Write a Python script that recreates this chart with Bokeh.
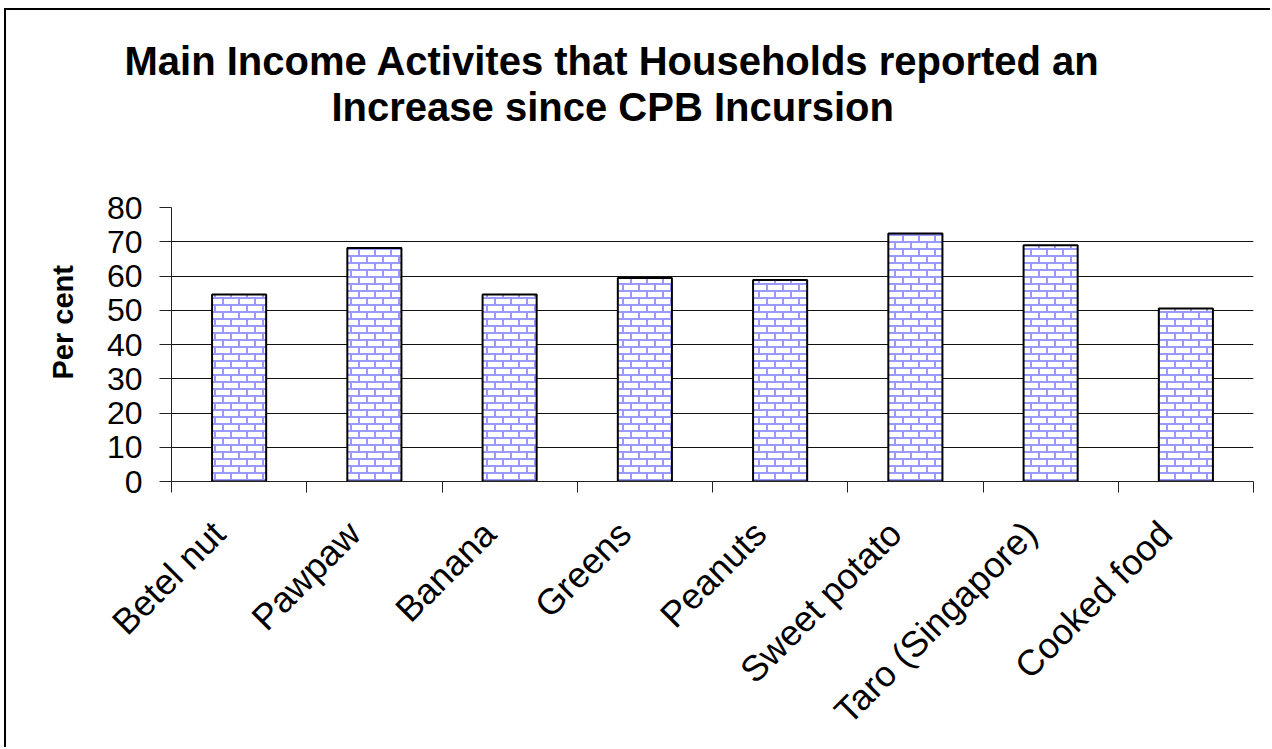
import math, zlib, struct, base64
from bokeh.plotting import figure
from bokeh.models import Range1d, FixedTicker, Title, ImageURLTexture, LinearAxis
from bokeh.core.properties import value
from bokeh.embed import file_html
from bokeh.resources import INLINE

# ---- data ----
categories = ["Betel nut", "Pawpaw", "Banana", "Greens", "Peanuts",
              "Sweet potato", "Taro (Singapore)", "Cooked food"]
values = [54.6, 68.2, 54.6, 59.4, 58.8, 72.4, 69.0, 50.5]
y_ticks = [0, 10, 20, 30, 40, 50, 60, 70, 80]
title_lines = ["Main Income Activites that Households reported an",
               "Increase since CPB Incursion"]
y_title = "Per cent"

FONT = "Liberation Sans"

# ---- brick texture (PNG tile built in memory) ----
def make_png(w, h, pix):
    raw = b"".join(b"\x00" + bytes(c for px in row for c in px) for row in pix)
    def chunk(t, d):
        return struct.pack(">I", len(d)) + t + d + struct.pack(">I", zlib.crc32(t + d) & 0xffffffff)
    return (b"\x89PNG\r\n\x1a\n" + chunk(b"IHDR", struct.pack(">IIBBBBB", w, h, 8, 2, 0, 0, 0))
            + chunk(b"IDAT", zlib.compress(raw)) + chunk(b"IEND", b""))

TW, TH, RH = 16, 14, 7
mortar, brick = (153, 153, 255), (255, 255, 255)
pix = []
for yy in range(TH):
    row = []
    r, ry = divmod(yy, RH)
    for xx in range(TW):
        m = ry < 2 or ((xx - r * 8) % TW) < 2
        row.append(mortar if m else brick)
    pix.append(row)
data_url = "data:image/png;base64," + base64.b64encode(make_png(TW, TH, pix)).decode()

# ---- figure ----
n = len(categories)
xs = list(range(n))
bounds = [i - 0.5 for i in range(n + 1)]
LABEL_SHIFT = 0.15   # category labels sit slightly left of the bar centres

p = figure(width=1266, height=739,
           x_range=Range1d(-0.5, n - 0.5), y_range=Range1d(0, 80),
           output_backend="svg", toolbar_location=None,
           min_border_left=165, min_border_right=19,
           min_border_top=197, min_border_bottom=268)
p.extra_x_ranges = {"lab": Range1d(-0.5 + LABEL_SHIFT, n - 0.5 + LABEL_SHIFT)}
p.styles = {"border-top": "2px solid #000", "border-left": "2px solid #000",
            "margin-left": "4px", "margin-top": "8px"}
p.outline_line_color = None
p.background_fill_color = "white"
p.border_fill_color = "white"

# category boundary ticks + axis line (default x axis)
xb = p.below[0]
xb.ticker = FixedTicker(ticks=bounds, minor_ticks=[])
xb.major_label_overrides = {b: "" for b in bounds}
xb.major_label_standoff = 0
xb.major_tick_out = 11
xb.major_tick_in = 0
xb.minor_tick_out = 0
xb.minor_tick_in = 0
xb.major_tick_line_color = "#222"
xb.minor_tick_line_color = None
xb.axis_line_color = "#222"

# category labels (second axis below)
xlab = LinearAxis(x_range_name="lab",
                  ticker=FixedTicker(ticks=xs, minor_ticks=[]),
                  major_label_overrides={i: c for i, c in zip(xs, categories)},
                  major_tick_out=0, major_tick_in=0, minor_tick_out=0, minor_tick_in=0,
                  major_tick_line_color=None, minor_tick_line_color=None,
                  axis_line_color=None,
                  major_label_orientation=math.pi / 4,
                  major_label_standoff=35,
                  major_label_text_font=FONT,
                  major_label_text_font_size="36px",
                  major_label_text_color="black")
p.add_layout(xlab, "below")

# y axis
p.yaxis.ticker = FixedTicker(ticks=y_ticks, minor_ticks=[])
p.yaxis.major_tick_out = 12
p.yaxis.major_tick_in = 0
p.yaxis.major_tick_line_color = "#222"
p.yaxis.axis_line_color = "#222"
p.yaxis.major_label_standoff = 17
p.yaxis.major_label_text_font = FONT
p.yaxis.major_label_text_font_size = "32px"
p.yaxis.major_label_text_color = "black"

p.xgrid.visible = False
p.ygrid.ticker = FixedTicker(ticks=y_ticks, minor_ticks=[])
p.ygrid.grid_line_color = "#111"
p.ygrid.grid_line_width = 1

# spacer between plot area and title (invisible)
spacer = LinearAxis(ticker=FixedTicker(ticks=[3], minor_ticks=[]),
                    major_label_overrides={3: ""},
                    major_tick_out=79, major_tick_in=0, major_label_standoff=0,
                    axis_line_color=None, major_tick_line_color=None,
                    minor_tick_line_color=None)
p.add_layout(spacer, "above")

# title (two lines, centred on x ~ 612)
TITLE_W1 = 976.0
TITLE_W2 = 562.0
p.add_layout(Title(text=title_lines[1], align="left", offset=441 - TITLE_W2 / 2,
                   text_font=FONT, text_font_size="40px", text_font_style="bold",
                   text_color="black", standoff=0), "above")
p.title.text = title_lines[0]
p.title.align = "left"
p.title.offset = 441 - TITLE_W1 / 2
p.title.text_font = FONT
p.title.text_font_size = "40px"
p.title.text_font_style = "bold"
p.title.text_color = "black"
p.title.standoff = 0

# y title on the left
p.add_layout(Title(text=y_title, align="left", offset=102, text_font=FONT,
                   text_font_size="29px", text_font_style="bold", text_color="black",
                   standoff=50), "left")

# bars
p.vbar(x=xs, top=values, bottom=0, width=0.4,
       fill_color="white", line_color="black", line_width=2,
       hatch_pattern=value("brick"),
       hatch_extra={"brick": ImageURLTexture(url=data_url)})

open("out.html", "w").write(file_html(p, INLINE))
